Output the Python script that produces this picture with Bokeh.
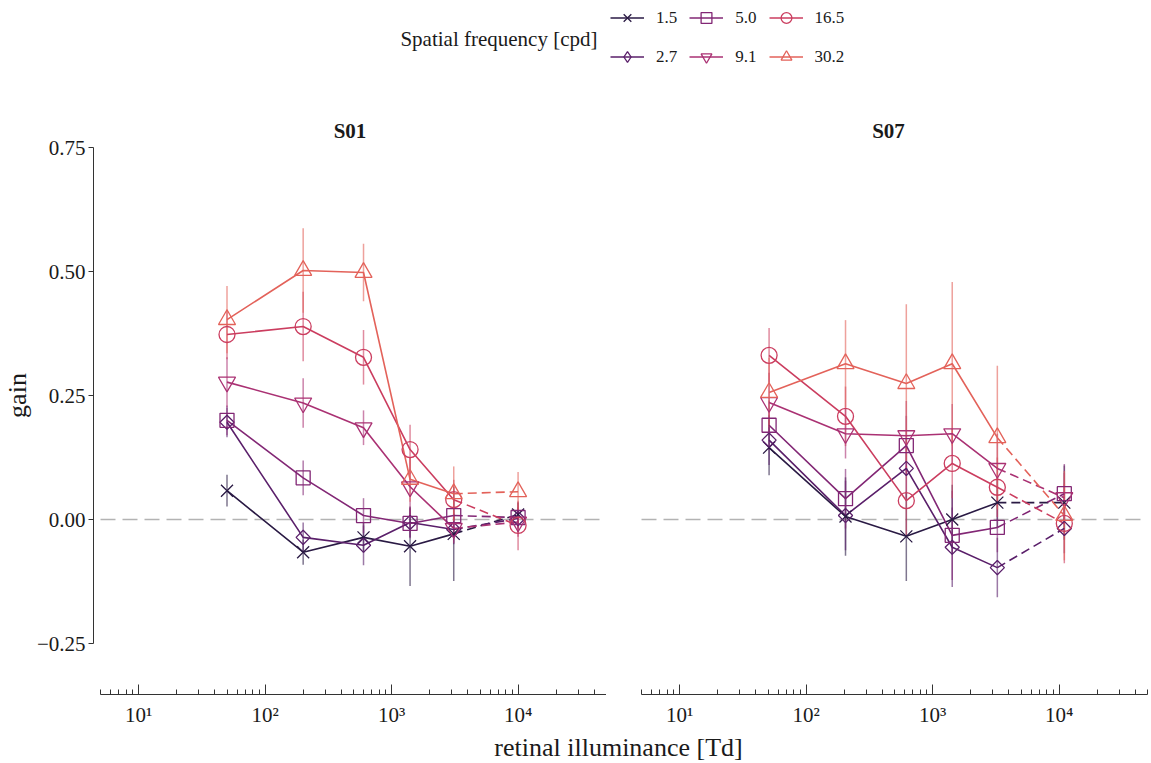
import math
from bokeh.plotting import figure
from bokeh.models import Range1d, FixedTicker, Legend, LegendItem, Label
from bokeh.layouts import column, row
from bokeh.embed import file_html
from bokeh.resources import INLINE

# ---------------- data ----------------
freq_labels = ["1.5", "2.7", "5.0", "9.1", "16.5", "30.2"]

illum_s01 = [50, 200, 600, 1400, 3100, 10000]
illum_s07 = [51, 205, 620, 1430, 3250, 11000]

s01_gain_1_5 = [0.058, -0.066, -0.036, -0.054, -0.029, 0.010]
s01_gain_2_7 = [0.196, -0.036, -0.052, -0.006, -0.020, 0.002]
s01_gain_5_0 = [0.200, 0.084, 0.008, -0.008, 0.008, 0.004]
s01_gain_9_1 = [0.277, 0.235, 0.185, 0.066, -0.018, -0.005]
s01_gain_16_5 = [0.373, 0.389, 0.327, 0.141, 0.040, -0.012]
s01_gain_30_2 = [0.403, 0.502, 0.498, 0.081, 0.052, 0.056]

s01_err_1_5 = [0.032, 0.025, 0.030, 0.080, 0.095, 0.025]
s01_err_2_7 = [0.030, 0.030, 0.040, 0.030, 0.030, 0.020]
s01_err_5_0 = [0.030, 0.035, 0.035, 0.030, 0.030, 0.030]
s01_err_9_1 = [0.050, 0.050, 0.035, 0.060, 0.030, 0.030]
s01_err_16_5 = [0.050, 0.070, 0.055, 0.050, 0.040, 0.050]
s01_err_30_2 = [0.068, 0.085, 0.058, 0.045, 0.055, 0.040]

s07_gain_1_5 = [0.145, 0.006, -0.034, 0.000, 0.034, 0.034]
s07_gain_2_7 = [0.160, 0.008, 0.103, -0.056, -0.097, -0.018]
s07_gain_5_0 = [0.190, 0.042, 0.149, -0.032, -0.016, 0.052]
s07_gain_9_1 = [0.236, 0.173, 0.169, 0.173, 0.103, 0.044]
s07_gain_16_5 = [0.331, 0.208, 0.038, 0.113, 0.065, -0.008]
s07_gain_30_2 = [0.256, 0.314, 0.274, 0.314, 0.165, 0.008]

s07_err_1_5 = [0.056, 0.079, 0.090, 0.070, 0.050, 0.075]
s07_err_2_7 = [0.050, 0.070, 0.060, 0.080, 0.060, 0.050]
s07_err_5_0 = [0.050, 0.060, 0.060, 0.090, 0.050, 0.060]
s07_err_9_1 = [0.060, 0.050, 0.070, 0.060, 0.070, 0.050]
s07_err_16_5 = [0.055, 0.060, 0.070, 0.070, 0.060, 0.080]
s07_err_30_2 = [0.070, 0.088, 0.160, 0.165, 0.145, 0.090]

y_ticks = [-0.25, 0.0, 0.25, 0.5, 0.75]
y_tick_labels = ["\u22120.25", "0.00", "0.25", "0.50", "0.75"]
x_ticks = [10, 100, 1000, 10000]
x_tick_labels = ["10\u00b9", "10\u00b2", "10\u00b3", "10\u2074"]

# ---------------- style ----------------
COLORS = ["#2a1a44", "#5a1f6a", "#822775", "#aa3173", "#cb3d5f", "#e3625a"]
MARKERS = ["x", "square", "square", "inverted_triangle", "circle", "triangle"]
LEG_MARKERS = ["x", "diamond", "square", "inverted_triangle", "circle", "triangle"]
ANGLES = [0, math.pi / 4, 0, 0, 0, 0]
SIZES = [17, 10, 14, 17, 16, 17]
LEG_SIZES = [12, 14, 11, 13, 11, 13]
FONT = "Liberation Serif"
AXIS_COLOR = "#333333"
TEXT_COLOR = "#1a1a1a"

XMIN, XMAX = 5, 50000
AXIS_PX = 506          # length of the drawn x axis (XMIN..XMAX)
YMAX = 0.75
FRAME_H = 547
YLO = YMAX - FRAME_H / 496.0
TOP_B, BOT_B = 52, 40
PANEL_H = TOP_B + FRAME_H + BOT_B
GAIN_W = 32
P1_BORDER = 61
P1_GAP = 100 - (GAIN_W + P1_BORDER)   # frame edge to axis start, left panel
P2_GAP = 12

minor_x = [m * 10 ** k for k in range(0, 5) for m in range(2, 10) if XMIN <= m * 10 ** k <= XMAX]

y_range = Range1d(YLO, YMAX)


def x_lo(gap_px):
    return XMIN / 10 ** (math.log10(XMAX / XMIN) * gap_px / AXIS_PX)


def style_panel(p, title):
    p.outline_line_color = None
    p.grid.visible = False
    p.title.text = title
    p.title.align = "center"
    p.title.text_font = FONT
    p.title.text_font_size = "21px"
    p.title.text_font_style = "bold"
    p.title.text_color = TEXT_COLOR
    p.title.standoff = 9


def make_panel(title, xs, gains, errs, show_y, gap, border_left, border_right):
    width = border_left + gap + AXIS_PX + border_right
    p = figure(width=width, height=PANEL_H, x_axis_type="log",
               x_range=Range1d(x_lo(gap), XMAX), y_range=y_range,
               output_backend="svg", toolbar_location=None,
               y_axis_location="left" if show_y else None,
               min_border_left=border_left, min_border_right=border_right,
               min_border_top=TOP_B, min_border_bottom=BOT_B)
    style_panel(p, title)

    ax = p.xaxis[0]
    ax.ticker = FixedTicker(ticks=x_ticks, minor_ticks=minor_x)
    ax.major_label_overrides = {t: l for t, l in zip(x_ticks, x_tick_labels)}
    ax.bounds = (XMIN, XMAX)
    ax.major_tick_in = 10
    ax.major_tick_out = 0
    ax.minor_tick_in = 5
    ax.minor_tick_out = 0
    ax.axis_line_color = AXIS_COLOR
    ax.major_tick_line_color = AXIS_COLOR
    ax.minor_tick_line_color = AXIS_COLOR
    ax.major_label_text_font = FONT
    ax.major_label_text_font_size = "21px"
    ax.major_label_text_color = TEXT_COLOR
    ax.major_label_standoff = 8

    if show_y:
        ay = p.yaxis[0]
        ay.ticker = FixedTicker(ticks=y_ticks, minor_ticks=[])
        ay.major_label_overrides = {t: l for t, l in zip(y_ticks, y_tick_labels)}
        ay.bounds = (y_ticks[0], y_ticks[-1])
        ay.major_tick_in = 0
        ay.major_tick_out = 5
        ay.axis_line_color = AXIS_COLOR
        ay.major_tick_line_color = AXIS_COLOR
        ay.major_label_text_font = FONT
        ay.major_label_text_font_size = "21px"
        ay.major_label_text_color = TEXT_COLOR
        ay.major_label_standoff = 3

    # zero reference line
    p.segment(x0=[XMIN], y0=[0], x1=[XMAX], y1=[0], line_color="#b3b3b3",
              line_width=1.5, line_dash="15 7")

    # error bars
    for i in range(len(freq_labels)):
        lo = [g - e for g, e in zip(gains[i], errs[i])]
        hi = [g + e for g, e in zip(gains[i], errs[i])]
        p.segment(x0=xs, y0=lo, x1=xs, y1=hi, line_color=COLORS[i],
                  line_width=1.5, line_alpha=0.6)
    # lines: solid then final dashed segment
    for i in range(len(freq_labels)):
        p.line(xs[:5], gains[i][:5], line_color=COLORS[i], line_width=1.6)
        p.line(xs[4:], gains[i][4:], line_color=COLORS[i], line_width=1.6,
               line_dash="9 5")
    # markers
    for i in range(len(freq_labels)):
        p.scatter(xs, gains[i], marker=MARKERS[i], size=SIZES[i], angle=ANGLES[i],
                  line_color=COLORS[i], fill_color=None, line_width=1.3)
    return p


s01_gains = [s01_gain_1_5, s01_gain_2_7, s01_gain_5_0, s01_gain_9_1, s01_gain_16_5, s01_gain_30_2]
s01_errs = [s01_err_1_5, s01_err_2_7, s01_err_5_0, s01_err_9_1, s01_err_16_5, s01_err_30_2]
s07_gains = [s07_gain_1_5, s07_gain_2_7, s07_gain_5_0, s07_gain_9_1, s07_gain_16_5, s07_gain_30_2]
s07_errs = [s07_err_1_5, s07_err_2_7, s07_err_5_0, s07_err_9_1, s07_err_16_5, s07_err_30_2]

p1 = make_panel("S01", illum_s01, s01_gains, s01_errs, True, P1_GAP, P1_BORDER, 0)
p2_border_left = 629 - (GAIN_W + p1.width)
p2 = make_panel("S07", illum_s07, s07_gains, s07_errs, False, P2_GAP, p2_border_left, 4)

# ---------------- y-axis title strip (shares the panels' y range) ----------------
gf = figure(width=GAIN_W, height=PANEL_H, x_range=Range1d(0, GAIN_W), y_range=y_range,
            output_backend="svg", toolbar_location=None, x_axis_location=None,
            y_axis_location=None, min_border_left=0, min_border_right=0,
            min_border_top=TOP_B, min_border_bottom=BOT_B)
gf.outline_line_color = None
gf.grid.visible = False
gf.add_layout(Label(x=GAIN_W / 2 + 1, y=(y_ticks[0] + y_ticks[-1]) / 2, text="gain",
                    angle=math.pi / 2, text_align="center", text_baseline="middle",
                    text_font=FONT, text_font_size="26px", text_color=TEXT_COLOR))

# ---------------- legend strip ----------------
LEG_H = 95
lf = figure(width=1151, height=LEG_H, x_range=Range1d(0, 1151), y_range=Range1d(0, LEG_H),
            output_backend="svg", toolbar_location=None, x_axis_location=None,
            y_axis_location=None, min_border=0)
lf.outline_line_color = None
lf.grid.visible = False
# the legend renderers carry the S01 data on a range where it falls outside the strip
lf.extra_y_ranges = {"hidden": Range1d(100, 101)}
items = []
for i, lab in enumerate(freq_labels):
    lr = lf.line(x=illum_s01, y=s01_gains[i], y_range_name="hidden",
                 line_color=COLORS[i], line_width=1.5)
    sr = lf.scatter(x=illum_s01, y=s01_gains[i], y_range_name="hidden",
                    marker=LEG_MARKERS[i], size=LEG_SIZES[i],
                    line_color=COLORS[i], fill_color=None, line_width=1.3)
    items.append(LegendItem(label=lab, renderers=[lr, sr]))
leg = Legend(items=items, location=(610, 25), orientation="vertical", nrows=2,
             glyph_width=34, glyph_height=27, label_height=27, label_standoff=12,
             spacing=12, padding=0, margin=0, border_line_color=None,
             background_fill_alpha=0, label_text_font=FONT,
             label_text_font_size="17px", label_text_color=TEXT_COLOR)
lf.add_layout(leg)
lf.add_layout(Label(x=597, y=LEG_H - 38, text="Spatial frequency [cpd]", text_align="right",
                    text_baseline="middle", text_font=FONT, text_font_size="21px",
                    text_color=TEXT_COLOR))

# ---------------- x label strip ----------------
XL_H = 763 - LEG_H - PANEL_H
xf = figure(width=1151, height=XL_H, x_range=Range1d(0, 1151), y_range=Range1d(0, XL_H),
            output_backend="svg", toolbar_location=None, x_axis_location=None,
            y_axis_location=None, min_border=0)
xf.outline_line_color = None
xf.grid.visible = False
xf.add_layout(Label(x=618, y=XL_H - 13, text="retinal illuminance [Td]", text_align="center",
                    text_baseline="middle", text_font=FONT, text_font_size="26px",
                    text_color=TEXT_COLOR))

layout = column(lf, row(gf, p1, p2), xf)
open("out.html", "w").write(file_html(layout, INLINE))
